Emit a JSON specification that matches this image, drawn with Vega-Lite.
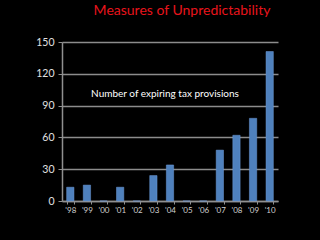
{
  "$schema": "https://vega.github.io/schema/vega-lite/v6.json",
  "autosize": "none",
  "width": 216,
  "height": 159,
  "padding": {"left": 62, "top": 42, "right": 42, "bottom": 39},
  "background": "black",
  "config": {"view": {"stroke": null}, "font": "Lato"},
  "title": {"text": "Measures of Unpredictability", "color": "#e8141c", "fontSize": 14, "font": "Lato", "fontWeight": "normal", "anchor": "middle", "dx": 12, "offset": 19},
  "data": {"values": [
    {"year": "'98", "n": 13},
    {"year": "'99", "n": 15},
    {"year": "'00", "n": 0},
    {"year": "'01", "n": 13},
    {"year": "'02", "n": 0},
    {"year": "'03", "n": 24},
    {"year": "'04", "n": 34},
    {"year": "'05", "n": 0},
    {"year": "'06", "n": 0},
    {"year": "'07", "n": 48},
    {"year": "'08", "n": 62},
    {"year": "'09", "n": 78},
    {"year": "'10", "n": 141}
  ]},
  "encoding": {
    "x": {"field": "year", "type": "ordinal",
      "scale": {"domain": ["'98", "'99", "'00", "'01", "'02", "'03", "'04", "'05", "'06", "'07", "'08", "'09", "'10"], "paddingInner": 0.56, "paddingOuter": 0.28},
      "axis": {"title": null, "labelAngle": 0, "labelColor": "#d0d0d0", "labelFontSize": 8, "domainColor": "#909090", "domainWidth": 1.5, "tickColor": "#909090", "tickBand": "extent", "tickSize": 3, "labelPadding": 2}},
    "y": {"field": "n", "type": "quantitative",
      "scale": {"domain": [0, 150]},
      "axis": {"title": null, "values": [0, 30, 60, 90, 120, 150], "labelOverlap": false, "labelColor": "#e0e0e0", "labelFontSize": 10.5, "gridColor": "#8c8c8c", "gridWidth": 1.5, "domainColor": "#909090", "domainWidth": 1.5, "tickColor": "#909090", "tickSize": 4, "labelPadding": 4}}
  },
  "layer": [
    {
      "mark": {"type": "bar", "color": "#4f81bd", "stroke": "#6f9bd8", "strokeWidth": 0.5}
    },
    {
      "data": {"values": [{"label": "Number of expiring tax provisions", "year": "'04", "n": 101}]},
      "mark": {"type": "text", "color": "white", "fontSize": 10, "font": "Lato", "dx": -5},
      "encoding": {
        "text": {"field": "label"}
      }
    }
  ]
}
